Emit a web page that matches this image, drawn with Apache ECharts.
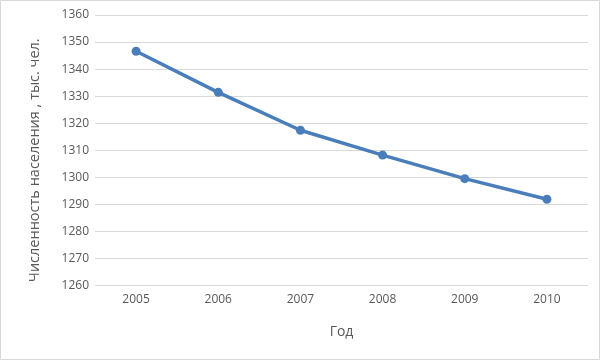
<!DOCTYPE html>
<html>
<head>
<meta charset="utf-8">
<script src="https://cdn.jsdelivr.net/npm/echarts@6/dist/echarts.min.js"></script>
<style>html,body{margin:0;padding:0;background:#fff}#c{width:601px;height:361px}</style>
</head>
<body>
<div id="c"></div>
<script>
var years = ['2005', '2006', '2007', '2008', '2009', '2010'];
var population = [1346.6, 1331.4, 1317.4, 1308.2, 1299.5, 1291.9];
var yMin = 1260, yMax = 1360, yStep = 10;
var xTitle = 'Год';
var yTitle = 'Численность населения , тыс. чел.';

var chart = echarts.init(document.getElementById('c'), null, {renderer: 'canvas'});
var font = '"Open Sans", "DejaVu Sans", sans-serif';
chart.setOption({
  animation: false,
  backgroundColor: '#fff',
  graphic: [{
    type: 'rect', shape: {x: 0.5, y: 0.5, width: 599, height: 359},
    style: {fill: 'none', stroke: '#d9d9d9', lineWidth: 1}, silent: true
  }],
  grid: {left: 95, right: 13, top: 15, bottom: 75.5},
  xAxis: {
    type: 'category', data: years, boundaryGap: true,
    name: xTitle, nameLocation: 'middle', nameGap: 40,
    nameTextStyle: {color: '#595959', fontSize: 14, fontFamily: font},
    axisLine: {show: false}, axisTick: {show: false},
    axisLabel: {color: '#595959', fontSize: 12, fontFamily: font, margin: 8}
  },
  yAxis: {
    type: 'value', min: yMin, max: yMax, interval: yStep,
    name: yTitle, nameLocation: 'middle', nameGap: 53,
    nameTextStyle: {color: '#595959', fontSize: 14.5, fontFamily: font, padding: [0, 20, 0, 0]},
    axisLine: {show: false}, axisTick: {show: false},
    axisLabel: {color: '#595959', fontSize: 12, fontFamily: font, margin: 6,
      formatter: function (v) { return String(v); }},
    splitLine: {lineStyle: {color: '#d9d9d9', width: 1}}
  },
  series: [{
    type: 'line', data: population,
    symbol: 'circle', symbolSize: 9,
    lineStyle: {color: '#4a7ebb', width: 3.5},
    itemStyle: {color: '#4a7ebb'}
  }]
});
</script>
</body>
</html>
